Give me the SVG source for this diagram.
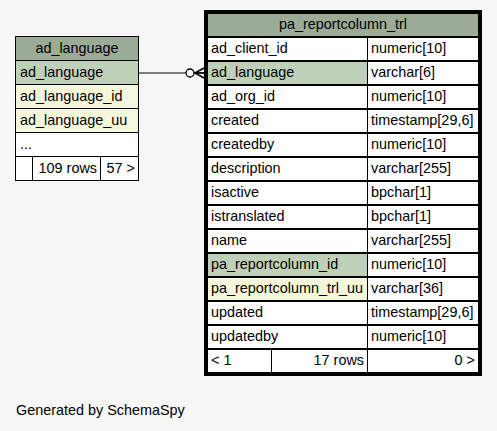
<svg xmlns="http://www.w3.org/2000/svg" width="497" height="431" viewBox="0 0 497 431">
<style>
text{font-family:"Liberation Sans",Arial,sans-serif;font-size:14.4px;fill:#000}
.c{stroke:#000;stroke-width:1}
.h{fill:#9bab96}
.pk{fill:#bed1b8}
.ix{fill:#f4f7da}
.w{fill:#ffffff}
.m{text-anchor:middle}
.e{text-anchor:end}
</style>
<rect x="0" y="0" width="497" height="431" fill="#f7f7f7"/>
<g id="connectors">
<line x1="139" y1="73" x2="186" y2="73" stroke="#000" stroke-width="1"/>
<circle cx="190" cy="73" r="4" fill="none" stroke="#000" stroke-width="1.3"/>
<line x1="194" y1="73" x2="204" y2="73" stroke="#000" stroke-width="1"/>
<path d="M204,68 L195,73 L204,78 M204,73 L195,73" fill="none" stroke="#000" stroke-width="1.6"/>
</g>
<g id="ad_language">
<rect x="15.5" y="36.5" width="123" height="144" fill="#fff" stroke="#000"/>
<rect class="h c" x="15.5" y="36.5" width="123" height="24"/>
<rect class="pk c" x="15.5" y="60.5" width="123" height="24"/>
<rect class="ix c" x="15.5" y="84.5" width="123" height="24"/>
<rect class="ix c" x="15.5" y="108.5" width="123" height="24"/>
<rect class="w c" x="15.5" y="132.5" width="123" height="24"/>
<rect class="w c" x="15.5" y="156.5" width="17" height="24"/>
<rect class="w c" x="32.5" y="156.5" width="68" height="24"/>
<rect class="w c" x="100.5" y="156.5" width="38" height="24"/>
<text class="m" x="77" y="53">ad_language</text>
<text x="20" y="77">ad_language</text>
<text x="20" y="101">ad_language_id</text>
<text x="20" y="125">ad_language_uu</text>
<text x="20" y="149">...</text>
<text class="e" x="97" y="173">109 rows</text>
<text class="e" x="135" y="173">57 &gt;</text>
</g>
<g id="pa_reportcolumn_trl">
<rect x="205.5" y="11.5" width="275" height="363" fill="#fff" stroke="#000" stroke-width="3"/>
<rect class="h c" x="207.5" y="13.5" width="271" height="23"/>
<rect class="w c" x="207.5" y="37.5" width="160" height="23"/><rect class="w c" x="367.5" y="37.5" width="111" height="23"/>
<rect class="pk c" x="207.5" y="61.5" width="160" height="23"/><rect class="w c" x="367.5" y="61.5" width="111" height="23"/>
<rect class="w c" x="207.5" y="85.5" width="160" height="23"/><rect class="w c" x="367.5" y="85.5" width="111" height="23"/>
<rect class="w c" x="207.5" y="109.5" width="160" height="23"/><rect class="w c" x="367.5" y="109.5" width="111" height="23"/>
<rect class="w c" x="207.5" y="133.5" width="160" height="23"/><rect class="w c" x="367.5" y="133.5" width="111" height="23"/>
<rect class="w c" x="207.5" y="157.5" width="160" height="23"/><rect class="w c" x="367.5" y="157.5" width="111" height="23"/>
<rect class="w c" x="207.5" y="181.5" width="160" height="23"/><rect class="w c" x="367.5" y="181.5" width="111" height="23"/>
<rect class="w c" x="207.5" y="205.5" width="160" height="23"/><rect class="w c" x="367.5" y="205.5" width="111" height="23"/>
<rect class="w c" x="207.5" y="229.5" width="160" height="23"/><rect class="w c" x="367.5" y="229.5" width="111" height="23"/>
<rect class="pk c" x="207.5" y="253.5" width="160" height="23"/><rect class="w c" x="367.5" y="253.5" width="111" height="23"/>
<rect class="ix c" x="207.5" y="277.5" width="160" height="23"/><rect class="w c" x="367.5" y="277.5" width="111" height="23"/>
<rect class="w c" x="207.5" y="301.5" width="160" height="23"/><rect class="w c" x="367.5" y="301.5" width="111" height="23"/>
<rect class="w c" x="207.5" y="325.5" width="160" height="23"/><rect class="w c" x="367.5" y="325.5" width="111" height="23"/>
<rect class="w c" x="207.5" y="349.5" width="64" height="23"/><rect class="w c" x="271.5" y="349.5" width="96" height="23"/><rect class="w c" x="367.5" y="349.5" width="111" height="23"/>
<text class="m" x="343" y="29">pa_reportcolumn_trl</text>
<text x="211" y="53">ad_client_id</text><text x="371" y="53">numeric[10]</text>
<text x="211" y="77">ad_language</text><text x="371" y="77">varchar[6]</text>
<text x="211" y="101">ad_org_id</text><text x="371" y="101">numeric[10]</text>
<text x="211" y="125">created</text><text x="371" y="125">timestamp[29,6]</text>
<text x="211" y="149">createdby</text><text x="371" y="149">numeric[10]</text>
<text x="211" y="173">description</text><text x="371" y="173">varchar[255]</text>
<text x="211" y="197">isactive</text><text x="371" y="197">bpchar[1]</text>
<text x="211" y="221">istranslated</text><text x="371" y="221">bpchar[1]</text>
<text x="211" y="245">name</text><text x="371" y="245">varchar[255]</text>
<text x="211" y="269">pa_reportcolumn_id</text><text x="371" y="269">numeric[10]</text>
<text x="211" y="293">pa_reportcolumn_trl_uu</text><text x="371" y="293">varchar[36]</text>
<text x="211" y="317">updated</text><text x="371" y="317">timestamp[29,6]</text>
<text x="211" y="341">updatedby</text><text x="371" y="341">numeric[10]</text>
<text x="211" y="365">&lt; 1</text>
<text class="e" x="364" y="365">17 rows</text>
<text class="e" x="475" y="365">0 &gt;</text>
</g>
<text x="16" y="415">Generated by SchemaSpy</text>
</svg>
